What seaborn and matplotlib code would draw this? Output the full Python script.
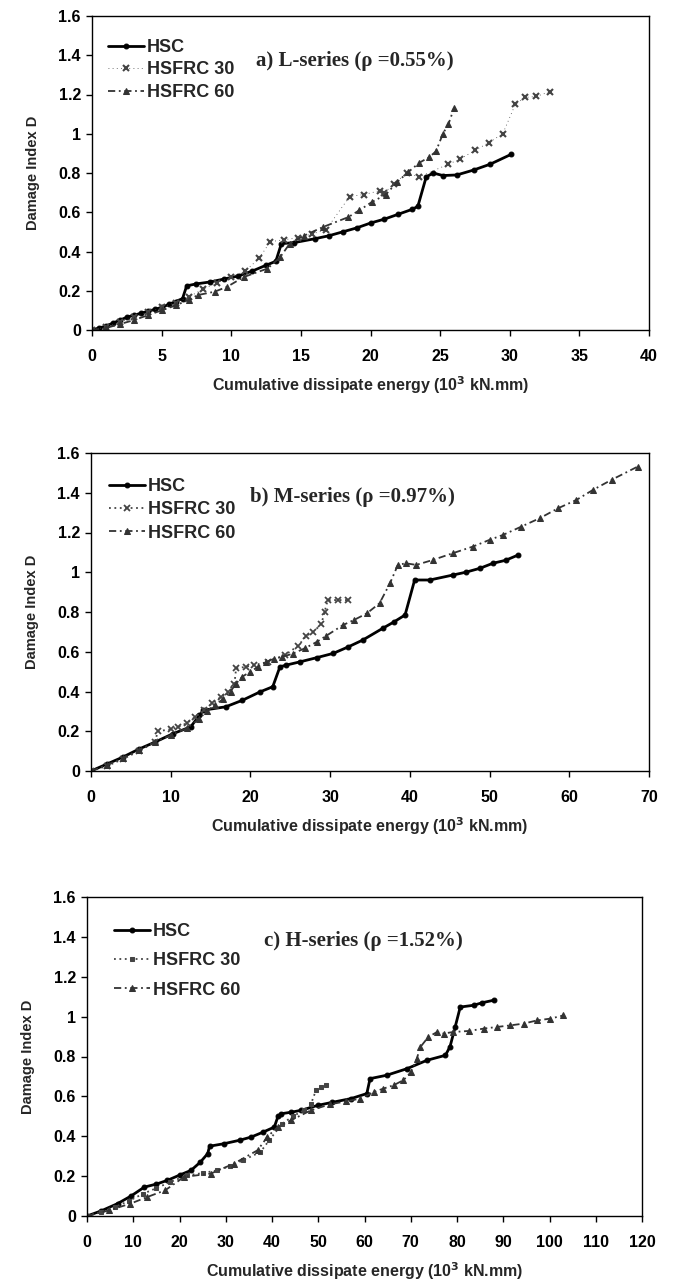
import numpy as np
import pandas as pd
import matplotlib
matplotlib.use("Agg")
import matplotlib.pyplot as plt
from matplotlib.ticker import FuncFormatter, MultipleLocator
import seaborn as sns

# ---------------- data ----------------
# a) L-series
a_hsc_x = [0, 0.5, 1, 1.5, 2, 2.5, 3, 3.5, 4, 4.5, 5, 5.5, 6, 6.5, 6.8, 7.5, 8.5, 9.5, 10.5, 11.5, 12.5, 13.2, 13.6,
           14.5, 16, 17, 18, 19, 20, 21, 22, 23, 23.4, 24.0, 24.5, 25.2, 26.2, 27.4, 28.6, 30.1]
a_hsc_y = [0, 0.01, 0.02, 0.035, 0.05, 0.065, 0.075, 0.085, 0.095, 0.105, 0.115, 0.13, 0.145, 0.16, 0.225, 0.235,
           0.245, 0.26, 0.275, 0.30, 0.33, 0.35, 0.44, 0.445, 0.465, 0.48, 0.50, 0.52, 0.545, 0.565, 0.59, 0.615,
           0.63, 0.78, 0.80, 0.787, 0.79, 0.815, 0.845, 0.895]
a_f30_x = [0, 1, 2, 3, 4, 5, 6, 7, 8, 9, 10, 11, 12, 12.8, 13.8, 14.8, 15.8, 16.8, 18.5, 19.5, 20.7, 21.0, 21.7, 22.6,
           23.5, 25.6, 26.4, 27.5, 28.5, 29.5, 30.4, 31.1, 31.9, 32.9]
a_f30_y = [0, 0.015, 0.04, 0.065, 0.09, 0.115, 0.14, 0.17, 0.21, 0.24, 0.27, 0.30, 0.365, 0.45, 0.46, 0.47, 0.49,
           0.51, 0.68, 0.69, 0.71, 0.70, 0.745, 0.80, 0.78, 0.845, 0.87, 0.915, 0.955, 1.0, 1.15, 1.185, 1.19, 1.215]
a_f60_x = [0, 1, 2, 3, 4, 5, 6, 7, 7.6, 8.8, 9.7, 10.9, 12.6, 13.5, 14.2, 15.2, 16.6, 18.4, 19.2, 20.1, 21.1, 21.9,
           22.7, 23.5, 24.2, 24.7, 25.2, 25.6, 26.0]
a_f60_y = [0, 0.01, 0.03, 0.05, 0.075, 0.10, 0.125, 0.155, 0.178, 0.195, 0.22, 0.27, 0.313, 0.37, 0.44, 0.48, 0.525,
           0.575, 0.61, 0.652, 0.69, 0.753, 0.804, 0.852, 0.88, 0.91, 1.0, 1.05, 1.13]

# b) M-series
b_hsc_x = [0, 2, 4, 6, 8, 10.3, 12.5, 13.6, 14.1, 16.9, 19.0, 21.2, 22.8, 23.7, 24.5, 26.2, 28.3, 30.4, 32.3, 34.1,
           36.6, 38.0, 39.4, 40.6, 42.5, 45.4, 47.0, 48.8, 50.4, 52.0, 53.6]
b_hsc_y = [0, 0.035, 0.07, 0.11, 0.145, 0.188, 0.222, 0.28, 0.306, 0.323, 0.356, 0.398, 0.424, 0.524, 0.533, 0.549,
           0.57, 0.592, 0.625, 0.659, 0.718, 0.75, 0.785, 0.961, 0.961, 0.986, 1.0, 1.02, 1.045, 1.06, 1.087]
b_f30_x = [0, 2, 4, 6, 8, 8.4, 10, 10.9, 12, 13, 14.2, 15.2, 16.3, 17.2, 18.0, 18.2, 19.5, 20.5, 22.2, 24.3, 26.0,
           27.0, 27.9, 28.9, 29.3, 29.7, 31.0, 32.3]
b_f30_y = [0, 0.025, 0.06, 0.10, 0.145, 0.20, 0.21, 0.221, 0.24, 0.27, 0.306, 0.34, 0.373, 0.40, 0.44, 0.516, 0.525,
           0.533, 0.549, 0.583, 0.63, 0.68, 0.70, 0.74, 0.80, 0.86, 0.86, 0.86]
b_f60_x = [0, 2, 4, 6, 8, 10, 12, 13.5, 14.5, 15.5, 16.5, 17.5, 18.2, 19, 20, 21, 22, 23, 24, 25.3, 26.8, 28.3, 29.5,
           31.6, 33, 34.6, 36.2, 37.5, 38.5, 39.5, 40.8, 42.9, 45.4, 47.9, 50, 51.7, 54, 56.3, 58.6, 60.9, 63, 65.3,
           68.6]
b_f60_y = [0, 0.03, 0.065, 0.105, 0.145, 0.18, 0.215, 0.26, 0.30, 0.33, 0.36, 0.40, 0.44, 0.475, 0.50, 0.525, 0.55,
           0.565, 0.575, 0.59, 0.617, 0.649, 0.68, 0.734, 0.76, 0.793, 0.844, 0.944, 1.037, 1.045, 1.037, 1.062,
           1.096, 1.129, 1.163, 1.188, 1.23, 1.272, 1.322, 1.364, 1.415, 1.465, 1.532]

# c) H-series
c_hsc_x = [0, 3, 6.6, 9.5, 12.4, 15, 17.4, 20, 22.5, 24.5, 26.1, 26.5, 29.7, 33, 35.5, 38, 40.5, 41.3, 42, 44, 46.3,
           49.9, 53, 57.1, 60.5, 61.2, 64.8, 69.2, 73.5, 77.5, 78.5, 79.6, 80.7, 83.6, 85.5, 87.9]
c_hsc_y = [0, 0.025, 0.062, 0.10, 0.145, 0.16, 0.179, 0.205, 0.229, 0.27, 0.313, 0.35, 0.363, 0.38, 0.396, 0.42,
           0.446, 0.50, 0.513, 0.52, 0.53, 0.555, 0.57, 0.589, 0.614, 0.689, 0.706, 0.739, 0.781, 0.806, 0.85, 0.948,
           1.048, 1.057, 1.07, 1.082]
c_f30_x = [0, 3, 6, 9, 12, 15, 18, 21.6, 25, 28.1, 31, 33.7, 37.5, 39.4, 42.2, 44.5, 46.9, 48.4, 49.5, 50.6, 51.6]
c_f30_y = [0, 0.02, 0.045, 0.075, 0.11, 0.14, 0.17, 0.204, 0.215, 0.229, 0.25, 0.279, 0.321, 0.38, 0.463, 0.50,
           0.53, 0.56, 0.63, 0.647, 0.655]
c_f60_x = [0, 4.7, 9.4, 13, 16.9, 21, 26.8, 31.8, 36.9, 39, 41.2, 44.1, 48.4, 52.5, 56, 59.1, 62, 64.1, 66.3, 68.4,
           70, 71.3, 72.1, 73.8, 75.7, 77.1, 79.2, 82.5, 85.8, 88.6, 91.5, 94.4, 97.3, 100.2, 103.0]
c_f60_y = [0, 0.028, 0.062, 0.095, 0.129, 0.196, 0.213, 0.263, 0.33, 0.397, 0.446, 0.48, 0.53, 0.56, 0.575, 0.589,
           0.622, 0.639, 0.656, 0.681, 0.72, 0.789, 0.848, 0.898, 0.923, 0.915, 0.923, 0.928, 0.94, 0.948, 0.956,
           0.965, 0.981, 0.99, 1.006]

series_names = ["HSC", "HSFRC 30", "HSFRC 60"]
titles = ["a) L-series (\u03c1 =0.55%)", "b) M-series (\u03c1 =0.97%)", "c) H-series (\u03c1 =1.52%)"]
x_max = [40, 70, 120]
x_step = [5, 10, 10]
y_ticks = [0, 0.2, 0.4, 0.6, 0.8, 1.0, 1.2, 1.4, 1.6]

panels = [
    [(a_hsc_x, a_hsc_y), (a_f30_x, a_f30_y), (a_f60_x, a_f60_y)],
    [(b_hsc_x, b_hsc_y), (b_f30_x, b_f30_y), (b_f60_x, b_f60_y)],
    [(c_hsc_x, c_hsc_y), (c_f30_x, c_f30_y), (c_f60_x, c_f60_y)],
]

# ---------------- style ----------------
sns.set_theme(style="ticks")
plt.rcParams["font.family"] = ["Liberation Sans", "DejaVu Sans"]
plt.rcParams["font.weight"] = "bold"

fig = plt.figure(figsize=(6.8, 12.83), dpi=100)
W, H = 680, 1283
boxes = [(92, 16, 649, 330), (91, 453, 649, 771), (87, 897, 642, 1216)]

hsc_style = dict(color="black", linestyle="-", linewidth=2.0, marker="o", markersize=3.5,
                 markeredgecolor="black", markerfacecolor="black")
f60_style = dict(color="#333333", linestyle=(0, (4, 2, 1, 2)), linewidth=1.3, marker="^", markersize=4.0,
                 markeredgecolor="#333333", markerfacecolor="#333333")
f30_styles = [
    dict(color="#444444", linestyle=(0, (1, 4)), linewidth=0.6, marker="x", markersize=4.5, markeredgewidth=1.5,
         markeredgecolor="#444444"),
    dict(color="#444444", linestyle=(0, (1, 2)), linewidth=1.3, marker="x", markersize=4.0, markeredgewidth=1.3,
         markeredgecolor="#444444"),
    dict(color="#444444", linestyle=(0, (1, 2)), linewidth=1.3, marker="s", markersize=2.6,
         markeredgecolor="#444444", markerfacecolor="#444444"),
]

title_pos = [(11.8, 1.37), (19.9, 1.38), (38.3, 1.38)]
# legend: (x of handle start px, y of first row centre px, row spacing)
leg_pos = [(108, 50, 0.30), (109, 489, 0.35), (114, 934, 0.68)]

for i, (l, t, r, b) in enumerate(boxes):
    ax = fig.add_axes([l / W, 1 - b / H, (r - l) / W, (b - t) / H])
    for j, (xs, ys) in enumerate(panels[i]):
        df = pd.DataFrame({"x": xs, "y": ys})
        st = [hsc_style, f30_styles[i], f60_style][j]
        sns.lineplot(data=df, x="x", y="y", ax=ax, estimator=None, sort=False,
                     label=series_names[j], **st)
    ax.set_xlim(0, x_max[i])
    ax.set_ylim(0, 1.6)
    ax.xaxis.set_major_locator(MultipleLocator(x_step[i]))
    ax.set_yticks(y_ticks)
    fmt = FuncFormatter(lambda v, p: ("%g" % round(v, 2)))
    ax.xaxis.set_major_formatter(fmt)
    ax.yaxis.set_major_formatter(fmt)
    ax.tick_params(axis="both", labelsize=11.5, direction="out", length=4, width=1, colors="black")
    ax.tick_params(axis="x", pad=10)
    ax.tick_params(axis="y", pad=4)
    for lab in ax.get_xticklabels() + ax.get_yticklabels():
        lab.set_fontweight("bold")
    for s in ax.spines.values():
        s.set_visible(True)
        s.set_color("black")
        s.set_linewidth(1.0)
    ax.set_xlabel("Cumulative dissipate energy (10$^{\\mathbf{3}}$ kN.mm)", fontsize=11.5, fontweight="bold",
                  labelpad=7)
    ax.set_ylabel("Damage Index D", fontsize=10.5, fontweight="bold", labelpad=13)
    ax.text(title_pos[i][0], title_pos[i][1], titles[i], fontsize=15, va="center", ha="left",
            family=["Liberation Serif", "DejaVu Serif"], fontweight="bold")
    lx, ly, ls = leg_pos[i]
    leg = ax.legend(loc="upper left", bbox_to_anchor=(lx / W, 1 - (ly - 11) / H),
                    bbox_transform=fig.transFigure, frameon=False, fontsize=13,
                    handlelength=2.0, handletextpad=0.15, labelspacing=ls, borderaxespad=0.0,
                    borderpad=0.0)
    for txt in leg.get_texts():
        txt.set_fontweight("bold")
    ax.grid(False)

fig.savefig("out.png", dpi=100, facecolor="white")
